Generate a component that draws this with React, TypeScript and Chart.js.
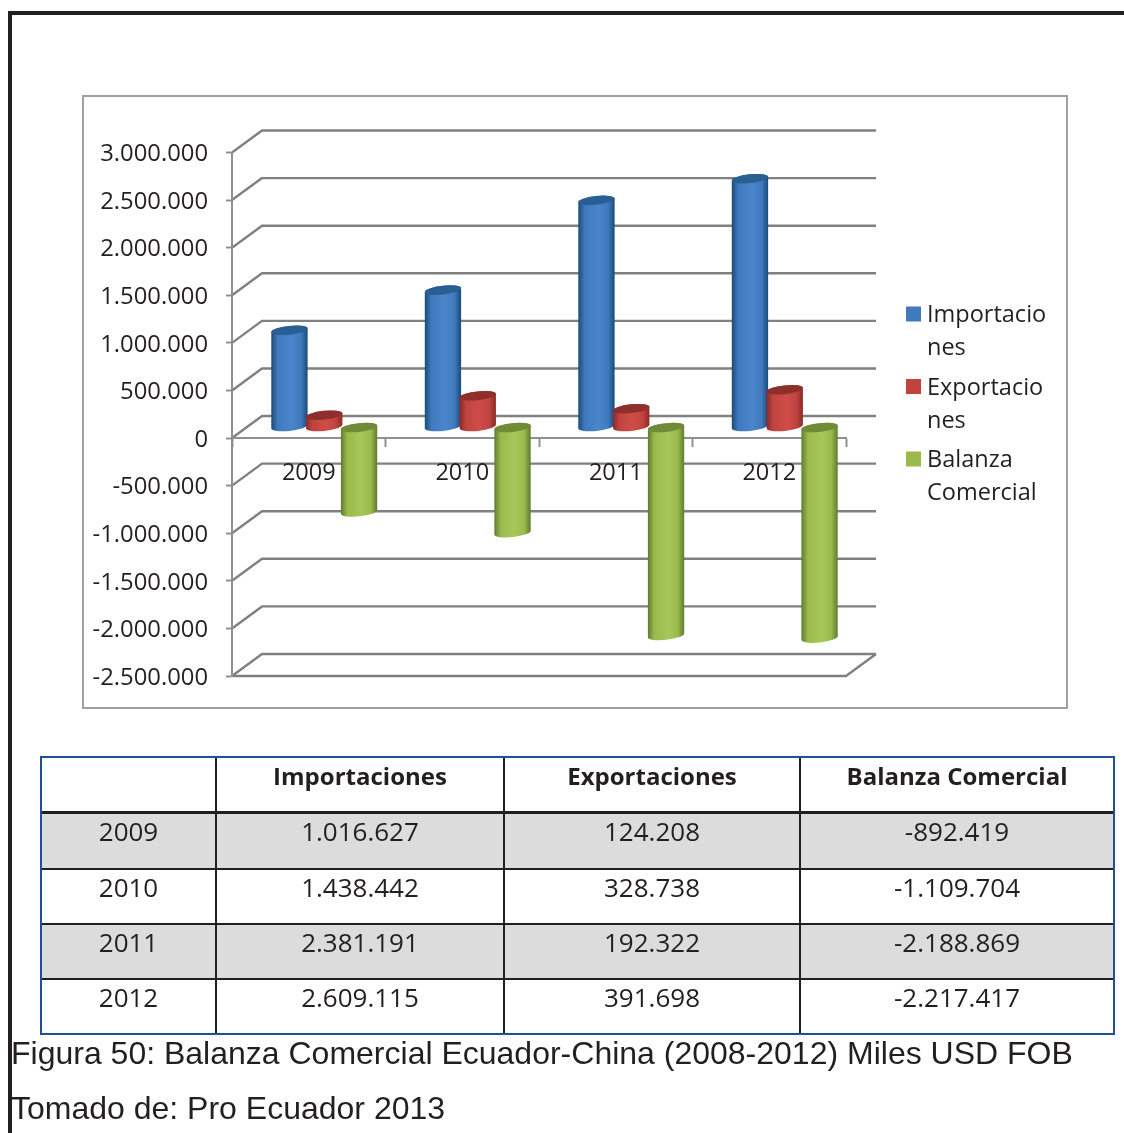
import React, { useEffect, useRef } from "react";
import { Chart, registerables } from "chart.js";

Chart.register(...registerables);

const years = ["2009", "2010", "2011", "2012"];
const importaciones = [1016627, 1438442, 2381191, 2609115];
const exportaciones = [124208, 328738, 192322, 391698];
const balanza = [-892419, -1109704, -2188869, -2217417];
const seriesNames = ["Importaciones", "Exportaciones", "Balanza Comercial"];
const legendLines = [["Importacio", "nes"], ["Exportacio", "nes"], ["Balanza", "Comercial"]];
const flatColors = ["#4079bd", "#c0433f", "#9aba4c"];
const edgeColors = ["#184a78", "#8a2a27", "#5f7a30"];
const midColors = ["#4a86cc", "#cf4d49", "#a6c859"];
const capColors = ["#2a5f94", "#8f2f2b", "#6f8b38"];
const captions = [
  "Figura 50: Balanza Comercial Ecuador-China (2008-2012) Miles USD FOB",
  "Tomado de: Pro Ecuador 2013",
];

const INK = "#231f20";
const GRID = "#808080";
const FONT = '"Open Sans", sans-serif';
const DX = 30;
const DY = 22;

const fmt = (v: number) => {
  const s = String(Math.abs(v)).replace(/\B(?=(\d{3})+(?!\d))/g, ".");
  return (v < 0 ? "-" : "") + s;
};

const walls = {
  id: "walls",
  beforeDraw(chart: any) {
    const { ctx, chartArea: a, scales } = chart;
    const y = scales.y;
    ctx.save();
    ctx.strokeStyle = GRID;
    ctx.lineWidth = 2.4;
    ctx.lineJoin = "round";
    y.ticks.forEach((t: any) => {
      const py = y.getPixelForValue(t.value);
      ctx.beginPath();
      ctx.moveTo(a.left, py);
      ctx.lineTo(a.left + DX, py - DY);
      ctx.lineTo(a.right + DX, py - DY);
      ctx.stroke();
    });
    const by = y.getPixelForValue(y.min);
    ctx.beginPath();
    ctx.moveTo(a.left, by);
    ctx.lineTo(a.right, by);
    ctx.lineTo(a.right + DX, by - DY);
    ctx.stroke();
    ctx.restore();
  },
};

const cylinders = {
  id: "cylinders",
  beforeDatasetDraw() {
    return false;
  },
  afterDatasetsDraw(chart: any) {
    const { ctx } = chart;
    const rot = -0.11;
    const ry = 4.4;
    ctx.save();
    ctx.translate(DX / 2 + 0.5, -DY / 2);
    chart.data.datasets.forEach((_: any, di: number) => {
      chart.getDatasetMeta(di).data.forEach((bar: any) => {
        const rx = bar.width / 2;
        const top = Math.min(bar.y, bar.base);
        const bot = Math.max(bar.y, bar.base);
        const g = ctx.createLinearGradient(bar.x - rx, 0, bar.x + rx, 0);
        g.addColorStop(0, edgeColors[di]);
        g.addColorStop(0.18, flatColors[di]);
        g.addColorStop(0.55, midColors[di]);
        g.addColorStop(0.82, flatColors[di]);
        g.addColorStop(1, edgeColors[di]);
        ctx.beginPath();
        ctx.ellipse(bar.x, bot, rx, ry, rot, 0, Math.PI);
        ctx.ellipse(bar.x, top, rx, ry, rot, Math.PI, 0);
        ctx.closePath();
        ctx.fillStyle = g;
        ctx.fill();
        ctx.beginPath();
        ctx.ellipse(bar.x, top, rx, ry, rot, 0, Math.PI * 2);
        ctx.fillStyle = capColors[di];
        ctx.fill();
      });
    });
    ctx.restore();
  },
};

const sideLegend = {
  id: "sideLegend",
  afterDraw(chart: any) {
    const { ctx } = chart;
    ctx.save();
    ctx.font = `23.5px ${FONT}`;
    ctx.textBaseline = "middle";
    ctx.textAlign = "left";
    legendLines.forEach((lines, i) => {
      const yy = 314 + i * 72.5;
      ctx.fillStyle = flatColors[i];
      ctx.fillRect(906, yy - 7.5, 15, 15);
      ctx.fillStyle = INK;
      lines.forEach((line, j) => ctx.fillText(line, 927, yy + 1.5 + j * 33));
    });
    ctx.restore();
  },
};

const colWidths = [173, 288, 296, 314];
const rowH = [56, 55.5, 55, 55.5, 53];

function DataTable() {
  const cell = (extra: any = {}) => ({
    padding: 0,
    height: 0,
    lineHeight: "35px",
    verticalAlign: "top",
    textAlign: "center" as const,
    borderLeft: `2px solid ${INK}`,
    boxSizing: "border-box" as const,
    overflow: "hidden",
    ...extra,
  });
  const columns = [importaciones, exportaciones, balanza];
  return (
    <table
      style={{
        position: "absolute",
        left: 40,
        top: 756,
        width: 1075,
        height: 279,
        tableLayout: "fixed",
        borderCollapse: "separate",
        borderSpacing: 0,
        border: "2px solid #1f4e9c",
        boxSizing: "border-box",
        font: `26px ${FONT}`,
        color: INK,
      }}
    >
      <colgroup>
        {colWidths.map((w, i) => (
          <col key={i} style={{ width: w }} />
        ))}
      </colgroup>
      <tbody>
        <tr style={{ height: rowH[0] }}>
          <td style={cell({ borderLeft: "none", borderBottom: `3px solid ${INK}` })}></td>
          {seriesNames.map((n) => (
            <td key={n} style={cell({ fontWeight: 700, fontSize: 24, lineHeight: "36px", borderBottom: `3px solid ${INK}` })}>
              {n}
            </td>
          ))}
        </tr>
        {years.map((yr, r) => (
          <tr key={yr} style={{ height: rowH[r + 1], background: r % 2 === 0 ? "#dcdcdc" : "#ffffff" }}>
            <td style={cell({ borderLeft: "none", borderBottom: r < 3 ? `2px solid ${INK}` : "none" })}>{yr}</td>
            {columns.map((c, k) => (
              <td key={k} style={cell({ borderBottom: r < 3 ? `2px solid ${INK}` : "none" })}>
                {fmt(c[r])}
              </td>
            ))}
          </tr>
        ))}
      </tbody>
    </table>
  );
}

export default function App() {
  const ref = useRef<HTMLCanvasElement>(null);
  useEffect(() => {
    const chart = new Chart(ref.current as HTMLCanvasElement, {
      type: "bar",
      data: {
        labels: years,
        datasets: [importaciones, exportaciones, balanza].map((d, i) => ({
          label: seriesNames[i],
          data: d,
          backgroundColor: flatColors[i],
          categoryPercentage: 0.68,
          barPercentage: 1.05,
        })),
      },
      plugins: [walls, cylinders, sideLegend],
      options: {
        responsive: false,
        animation: false,
        layout: { padding: { left: 0, top: 152.5, right: 278, bottom: 457 } },
        plugins: { legend: { display: false }, tooltip: { enabled: false }, title: { display: false } },
        scales: {
          x: {
            position: { y: 0 },
            grid: { offset: true, drawOnChartArea: false, drawTicks: true, tickLength: 8, tickColor: "#909090", tickWidth: 2 },
            border: { color: "#909090", width: 2 },
            ticks: { color: INK, font: { family: FONT, size: 23.5 }, padding: 13, maxRotation: 0 },
          },
          y: {
            min: -2500000,
            max: 3000000,
            afterFit(s: any) {
              s.width = 232;
            },
            grid: { drawOnChartArea: false, drawTicks: true, tickLength: 6, tickColor: "#909090", tickWidth: 2 },
            border: { color: "#909090", width: 2 },
            ticks: {
              stepSize: 500000,
              color: INK,
              font: { family: FONT, size: 23.8 },
              padding: 18,
              labelOffset: 2,
              callback: (v: any) => fmt(Number(v)),
            },
          },
        },
      } as any,
    });
    return () => chart.destroy();
  }, []);

  return (
    <div style={{ position: "absolute", left: 0, top: 0, width: 1124, height: 1133, overflow: "hidden", background: "#fff" }}>
      <div style={{ position: "absolute", left: 8, top: 11, width: 1116, height: 1122, borderTop: `4px solid ${INK}`, borderLeft: `4px solid ${INK}`, boxSizing: "border-box" }} />
      <div style={{ position: "absolute", left: 82, top: 95, width: 986, height: 614, border: "2px solid #a0a0a0", boxSizing: "border-box" }} />
      <canvas ref={ref} width={1124} height={1133} style={{ position: "absolute", left: 0, top: 0, display: "block", width: 1124, height: 1133 }} />
      <DataTable />
      {captions.map((c, i) => (
        <div
          key={c}
          style={{
            position: "absolute",
            left: 11,
            top: 1033 + i * 55,
            font: `32px/40px "Liberation Sans", Arial, sans-serif`,
            color: INK,
            whiteSpace: "nowrap",
          }}
        >
          {c}
        </div>
      ))}
    </div>
  );
}
